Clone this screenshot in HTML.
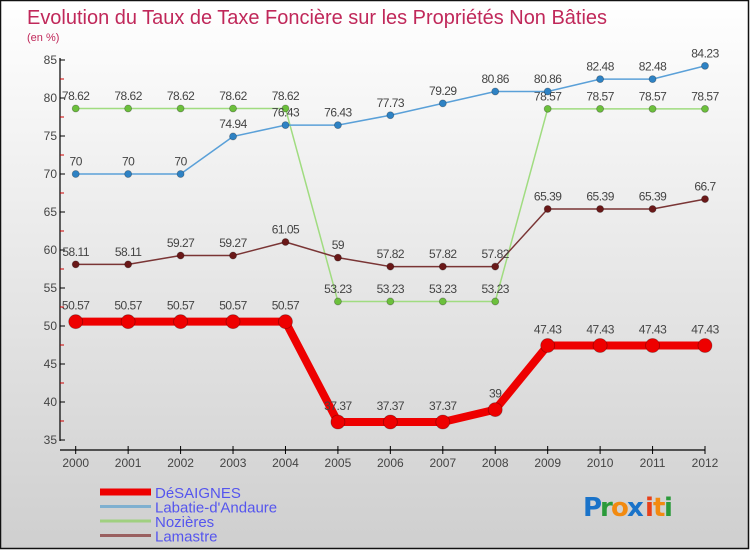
<!DOCTYPE html>
<html><head><meta charset="utf-8"><style>
html,body{margin:0;padding:0;width:750px;height:550px;overflow:hidden}
svg{display:block;font-family:"Liberation Sans",sans-serif}
</style></head><body>
<svg id="chart" width="750" height="550" viewBox="0 0 750 550">
<defs><linearGradient id="bg" x1="0" y1="0" x2="0" y2="1"><stop offset="0" stop-color="#ffffff"/><stop offset="1" stop-color="#cfcfcf"/></linearGradient></defs>
<rect x="0.5" y="0.5" width="748" height="548" fill="url(#bg)" stroke="#111" stroke-width="1.5"/>
<text x="27" y="24" font-size="20" fill="#c0285a" textLength="580" lengthAdjust="spacingAndGlyphs">Evolution du Taux de Taxe Foncière sur les Propriétés Non Bâties</text>
<text x="27" y="41" font-size="11" fill="#c0285a">(en %)</text>
<g id="axes"></g>
<g id="series"></g>
<g id="legend"></g>
<g font-size="26" font-weight="bold" font-family="'DejaVu Sans',sans-serif">
<text x="583" y="516" fill="#1a73c9">P</text><text x="600" y="516" fill="#2a9a3a">r</text><text x="611" y="516" fill="#f28a10">o</text><text x="627" y="516" fill="#1a73c9">x</text><text x="645" y="516" fill="#e8401a">i</text><text x="653" y="516" fill="#f28a10">t</text><text x="664" y="516" fill="#2a9a3a">i</text>
</g>
</svg>
<script>
const years=[2000,2001,2002,2003,2004,2005,2006,2007,2008,2009,2010,2011,2012];
const desaignes=[50.57,50.57,50.57,50.57,50.57,37.37,37.37,37.37,39,47.43,47.43,47.43,47.43];
const labatie=[70,70,70,74.94,76.43,76.43,77.73,79.29,80.86,80.86,82.48,82.48,84.23];
const nozieres=[78.62,78.62,78.62,78.62,78.62,53.23,53.23,53.23,53.23,78.57,78.57,78.57,78.57];
const lamastre=[58.11,58.11,59.27,59.27,61.05,59,57.82,57.82,57.82,65.39,65.39,65.39,66.7];
const yTicks=[35,40,45,50,55,60,65,70,75,80,85];
const seriesNames=["DéSAIGNES","Labatie-d'Andaure","Nozières","Lamastre"];

const NS="http://www.w3.org/2000/svg";
const x=i=>75.7+i*(705-75.7)/12;
const y=v=>60+(85-v)*(380/50);
function el(tag,attrs,parent,text){const e=document.createElementNS(NS,tag);for(const k in attrs)e.setAttribute(k,attrs[k]);if(text!==undefined)e.textContent=text;parent.appendChild(e);return e;}
const axes=document.getElementById('axes');
let a=el('line',{x1:60,y1:58,x2:60,y2:441,stroke:'#000','stroke-width':1.2},axes);


a=el('line',{x1:60,y1:450,x2:705,y2:450,stroke:'#000','stroke-width':1.2},axes);


yTicks.forEach(t=>{
  el('line',{x1:60,y1:y(t),x2:65,y2:y(t),stroke:'#000'},axes);
  if(t<85) el('line',{x1:60,y1:y(t+2.5),x2:64,y2:y(t+2.5),stroke:'#c00'},axes);
  const tx=el('text',{x:57,y:y(t)+4,'font-size':12,fill:'#444','text-anchor':'end'},axes,t);
  
  
});
years.forEach((yr,i)=>{
  el('line',{x1:x(i),y1:446,x2:x(i),y2:454,stroke:'#000'},axes);
  const tx=el('text',{x:x(i),y:467,'font-size':12,fill:'#444','text-anchor':'middle'},axes,yr);
  
  
});
const sg=document.getElementById('series');
function drawSeries(vals,name,color,dot,lw,r,key){
  const g=el('g',{},sg);
  
  
  const pts=vals.map((v,i)=>x(i)+','+y(v)).join(' ');
  el('polyline',{points:pts,fill:'none',stroke:color,'stroke-width':lw,'stroke-linejoin':'round'},g);
  vals.forEach((v,i)=>{
    const c=el('circle',{cx:x(i),cy:y(v),r:r,fill:dot,stroke:'rgba(0,0,0,0.3)','stroke-width':0.8},g);
    
    
    const t=el('text',{x:x(i),y:y(v)-(r+5),'font-size':12,fill:'#444','text-anchor':'middle','letter-spacing':'-0.5'},g,String(v));
    
    
  });
}
drawSeries(nozieres,seriesNames[2],'#a0dc80','#6cc03c',1.5,3.5,'nozieres');
drawSeries(labatie,seriesNames[1],'#5aa0d8','#2e82c4',1.5,3.5,'labatie');
drawSeries(lamastre,seriesNames[3],'#7a3535','#6a1818',1.5,3.5,'lamastre');
drawSeries(desaignes,seriesNames[0],'#ee0000','#ee0000',8,7,'desaignes');
const lg=document.getElementById('legend');
const lcolors=['#ee0000','#7fb0d0','#a0d080','#9a6060'];
const lw=[7,3,3,3];
seriesNames.forEach((n,i)=>{
  const yy=492+i*14.5;
  const l=el('line',{x1:100,y1:yy,x2:151,y2:yy,stroke:lcolors[i],'stroke-width':lw[i]},lg);
  
  
  const t=el('text',{x:155,y:yy+6,'font-size':15,fill:'#5555ee'},lg,n);
  
  
});
</script>
</body></html>
